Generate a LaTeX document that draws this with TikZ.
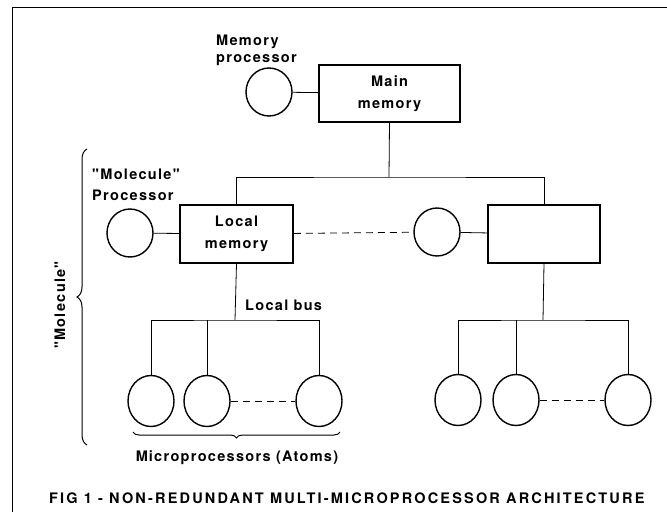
\documentclass[tikz,border=0pt]{standalone}
\usepackage{fontspec}
\setmainfont{TeX Gyre Heros}[LetterSpace=9,Ligatures=TeXOff]
\usepackage{tikz}
\usetikzlibrary{positioning,shapes.geometric,decorations.pathreplacing}

\begin{document}
\begin{tikzpicture}[x=1pt,y=-1pt,
  every node/.style={font=\fontsize{14.5}{17}\selectfont\bfseries},
  proc/.style={ellipse,draw,line width=1.4pt,minimum width=46pt,minimum height=48pt,inner sep=0pt},
  atom/.style={proc,minimum height=51pt},
  mem/.style={rectangle,draw,line width=1.6pt,minimum width=113pt,minimum height=58pt,align=center,inner sep=0pt},
  lbl/.style={align=left,inner sep=0pt},
  bus/.style={line width=0.8pt},
  gap/.style={line width=0.8pt,dash pattern=on 7pt off 5pt}]
\useasboundingbox (0,0) rectangle (667,512);
\draw[line width=1pt] (12,512) -- (12,7) -- (667,7);
% main memory
\node[proc] (memproc) at (269,92) {};
\node[mem,minimum width=141pt,minimum height=57pt] (mainmem) at (389.5,93.5) {Main\\[5pt]memory};
\node[lbl,anchor=west] (memlbl) at (216,50) {Memory\\processor};
% molecules
\node[proc] (molproc) at (130,233) {};
\node[mem] (localmem) at (236.5,234) {Local\\[5pt]memory};
\node[proc] (proc2) at (437,232) {};
\node[mem,minimum width=112pt] (mem2) at (544,234) {};
\node[lbl,anchor=west] (mollbl) at (92,185) {"Molecule"\\[4pt]Processor};
% atoms
\node[atom] (a1) at (151,401) {};
\node[atom] (a2) at (207,401) {};
\node[atom] (a3) at (319,401) {};
\node[atom] (b1) at (458,400) {};
\node[atom] (b2) at (516,400) {};
\node[atom] (b3) at (628,400) {};
\node[lbl,anchor=west] (buslbl) at (245,305) {Local bus};
\node[lbl] (atomlbl) at (237,458) {M{\kern1pt}icroprocessors (Atoms)};
\node[lbl,rotate=90] (molname) at (60,305) {"Molecule"};
\node[lbl,anchor=west] (caption) at (49,498) {\addfontfeature{LetterSpace=15}FIG 1 - NON-REDUNDANT MULTI-MICROPROCESSOR ARCHITECTURE};
\coordinate (topbus) at (389,177);
\coordinate (busL) at (235,320);
\coordinate (busR) at (543,320);
% connectors
\draw[bus] (memproc)--(mainmem); \draw[bus] (molproc)--(localmem); \draw[bus] (proc2)--(mem2);
\draw[bus] (mainmem.south)--(topbus); \draw[bus] (localmem.north)|-(topbus)-|(mem2.north);
\draw[bus] (localmem.south)--(busL); \draw[bus] (a1.north)|-(busL)-|(a3.north); \draw[bus] (a2.north)--(a2.north|-busL);
\draw[bus] (mem2.south)--(busR); \draw[bus] (b1.north)|-(busR)-|(b3.north); \draw[bus] (b2.north)--(b2.north|-busR);
\draw[gap] (localmem)--(proc2); \draw[gap] (a2)--(a3); \draw[gap] (b2)--(b3);
% braces
\draw[line width=1pt,decorate,decoration={brace,amplitude=10pt}] (87,445)--(87,149);
\draw[line width=1pt,decorate,decoration={brace,amplitude=6pt}] (340,432)--(133,432);
\end{tikzpicture}
\end{document}
